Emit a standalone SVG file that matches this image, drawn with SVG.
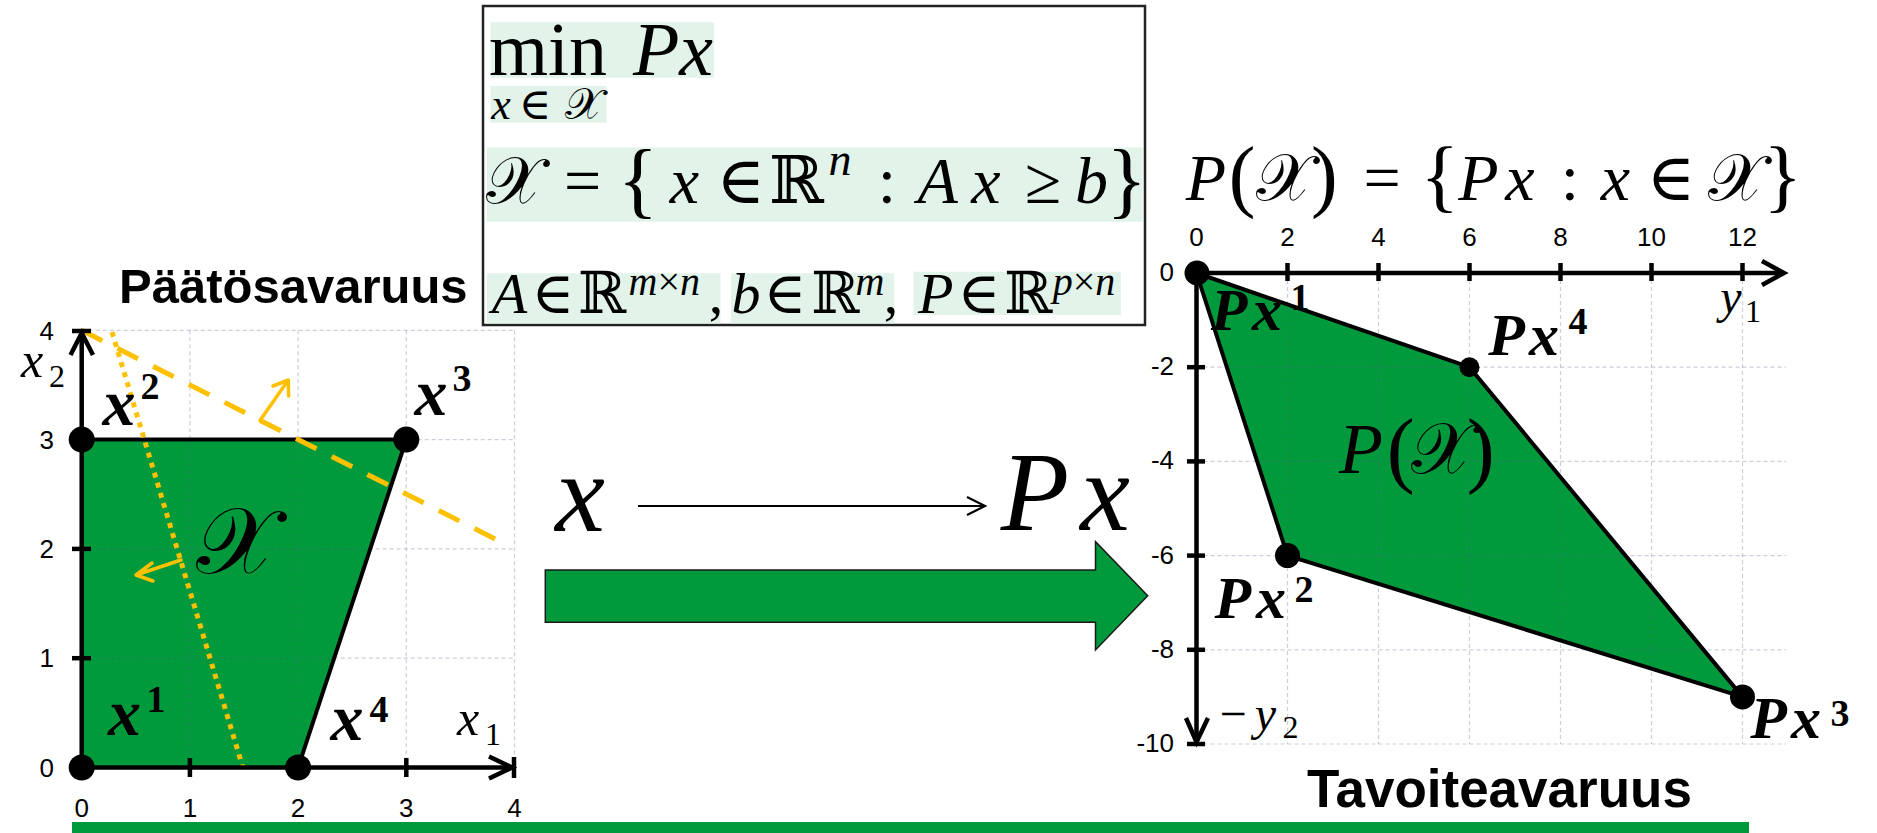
<svg xmlns="http://www.w3.org/2000/svg" width="1877" height="833" viewBox="0 0 1877 833">
<style>
.m{font-family:"Liberation Serif","DejaVu Serif",serif;font-style:italic;fill:#000;text-anchor:middle}
.r{font-style:normal}
.b{font-weight:bold}
.cal{font-family:"DejaVu Serif","DejaVu Sans",serif;font-style:normal}
.lbl{font-family:"Liberation Sans",Arial,sans-serif;fill:#000}
.tick{font-family:"Liberation Sans",Arial,sans-serif;font-size:26px;fill:#000}
.grid{stroke:#5a5f8c;stroke-opacity:.3;stroke-width:1.2;stroke-dasharray:4 3;fill:none}
.ax{stroke:#000;stroke-width:4.5;fill:none;stroke-linecap:butt}
.edge{stroke:#000;stroke-width:4;fill:none;stroke-linejoin:round}
.fill{fill:#009a3d}
.hl{fill:#e2f3ea}
.yl{stroke:#ffc000;fill:none}
</style>

<!-- Left plot: decision space -->
<g id="decision-space">
  <polygon class="fill" points="81.7,767.5 81.7,439.6 406.3,439.6 298.1,767.5"/>
  <g class="grid">
    <line x1="189.9" y1="330.3" x2="189.9" y2="767.5"/>
    <line x1="298.1" y1="330.3" x2="298.1" y2="767.5"/>
    <line x1="406.3" y1="330.3" x2="406.3" y2="767.5"/>
    <line x1="514.5" y1="330.3" x2="514.5" y2="767.5"/>
    <line x1="81.7" y1="658.2" x2="514.5" y2="658.2"/>
    <line x1="81.7" y1="548.9" x2="514.5" y2="548.9"/>
    <line x1="81.7" y1="439.6" x2="514.5" y2="439.6"/>
    <line x1="81.7" y1="330.3" x2="514.5" y2="330.3"/>
  </g>
  <polyline class="edge" points="81.7,439.6 406.3,439.6 298.1,767.5"/>
  <!-- constraint lines -->
  <line class="yl" x1="81.7" y1="330.3" x2="500.8" y2="541.8" stroke-width="5" stroke-dasharray="23 17"/>
  <line class="yl" x1="112" y1="332" x2="243" y2="768" stroke-width="5" stroke-dasharray="5 5.5"/>
  <path class="yl" d="M260,420.6 L288.3,380 M273,386 L288.3,380 L288.6,396" stroke-width="3.5" stroke-linecap="round" stroke-linejoin="round"/>
  <path class="yl" d="M181,560 L136,575 M152,563 L136,575 L153,581" stroke-width="3.5" stroke-linecap="round" stroke-linejoin="round"/>
  <!-- axes -->
  <line class="ax" x1="81.7" y1="767.5" x2="512" y2="767.5"/>
  <polyline class="ax" points="489,756.5 512,767.5 489,778.5"/>
  <line class="ax" x1="514" y1="757" x2="514" y2="778"/>
  <line class="ax" x1="81.7" y1="767.5" x2="81.7" y2="333"/>
  <polyline class="ax" points="70.5,355 81.7,333 93,355"/>
  <line class="ax" x1="72" y1="331" x2="91" y2="331"/>
  <line class="ax" x1="189.9" y1="758" x2="189.9" y2="777"/>
  <line class="ax" x1="406.3" y1="758" x2="406.3" y2="777"/>
  <line class="ax" x1="72" y1="658.2" x2="91" y2="658.2"/>
  <line class="ax" x1="72" y1="548.9" x2="91" y2="548.9"/>
  <!-- vertices -->
  <circle cx="81.7" cy="767.5" r="13"/>
  <circle cx="81.7" cy="439.6" r="13"/>
  <circle cx="406.3" cy="439.6" r="13"/>
  <circle cx="298.1" cy="767.5" r="13"/>
  <!-- tick labels -->
  <g class="tick" text-anchor="end">
    <text x="54" y="340">4</text>
    <text x="54" y="449">3</text>
    <text x="54" y="558">2</text>
    <text x="54" y="667">1</text>
    <text x="54" y="777">0</text>
  </g>
  <g class="tick" text-anchor="middle">
    <text x="81.7" y="817">0</text>
    <text x="189.9" y="817">1</text>
    <text x="298.1" y="817">2</text>
    <text x="406.3" y="817">3</text>
    <text x="514.5" y="817">4</text>
  </g>
  <!-- labels -->
  <text class="m b" font-size="66"><tspan x="119" y="425">x</tspan><tspan class="r" x="150" y="399" font-size="38">2</tspan></text>
  <text class="m b" font-size="66"><tspan x="431" y="415">x</tspan><tspan class="r" x="462" y="391" font-size="38">3</tspan></text>
  <text class="m b" font-size="66"><tspan x="124.5" y="735">x</tspan><tspan class="r" x="156" y="712" font-size="38">1</tspan></text>
  <text class="m b" font-size="66"><tspan x="347" y="740">x</tspan><tspan class="r" x="379" y="722" font-size="38">4</tspan></text>
  <text class="m" font-size="50"><tspan x="468" y="735">x</tspan><tspan class="r" x="493" y="745" font-size="32">1</tspan></text>
  <text class="m" font-size="50"><tspan x="32" y="377">x</tspan><tspan class="r" x="57" y="387" font-size="32">2</tspan></text>
  <text class="m cal" x="236" y="573" font-size="94">𝒳</text>
  <text class="lbl b" x="119" y="303" font-size="49">Päätösavaruus</text>
</g>

<!-- Formula box -->
<g id="formula-box">
  <rect x="483" y="6" width="662" height="319" fill="#fff" stroke="#222" stroke-width="2.5"/>
  <rect class="hl" x="490.5" y="22.3" width="223.5" height="55.4"/>
  <rect class="hl" x="490.5" y="86" width="116" height="36.7"/>
  <rect class="hl" x="487" y="147.5" width="655.5" height="74.2"/>
  <rect class="hl" x="487" y="273.3" width="233.5" height="50"/>
  <rect class="hl" x="731" y="273.3" width="163" height="50"/>
  <rect class="hl" x="913.5" y="271.7" width="207.5" height="43.3"/>
  <text class="m" font-size="76" y="75"><tspan class="r" x="548">min</tspan><tspan x="673" y="75">Px</tspan></text>
  <text class="m" font-size="44" y="119"><tspan x="501">x</tspan><tspan class="r" x="535" y="119">∈</tspan><tspan class="cal" x="584" y="119">𝒳</tspan></text>
  <text class="m" font-size="66" y="203"><tspan class="cal" x="514.5">𝒳</tspan><tspan class="r" x="582.5" y="203">=</tspan><tspan class="r" x="638" y="208" font-size="84">{</tspan><tspan x="684.5" y="203">x</tspan><tspan class="r" x="740.6" y="203">∈</tspan><tspan class="r" x="796.5" y="203">ℝ</tspan><tspan x="840" y="175" font-size="46">n</tspan><tspan class="r" x="886.8" y="203">:</tspan><tspan x="937.7" y="203">A</tspan><tspan x="986" y="203">x</tspan><tspan class="r" x="1042.8" y="203">≥</tspan><tspan x="1091.5" y="203">b</tspan><tspan class="r" x="1126.6" y="208" font-size="84">}</tspan></text>
  <text class="m" font-size="58" y="313.3"><tspan x="509.5">A</tspan><tspan class="r" x="553" y="313.3">∈</tspan><tspan class="r" x="601.8" y="313.3">ℝ</tspan><tspan x="664.3" y="295" font-size="40">m<tspan class="r">×</tspan>n</tspan><tspan class="r" x="716" y="313.3">,</tspan><tspan x="745.9" y="313.3">b</tspan><tspan class="r" x="785" y="313.3">∈</tspan><tspan class="r" x="835" y="313.3">ℝ</tspan><tspan x="870" y="295" font-size="40">m</tspan><tspan class="r" x="891" y="313.3">,</tspan><tspan x="935.8" y="313.3">P</tspan><tspan class="r" x="979" y="313.3">∈</tspan><tspan class="r" x="1028" y="313.3">ℝ</tspan><tspan x="1084" y="295" font-size="40">p<tspan class="r">×</tspan>n</tspan></text>
</g>

<!-- Mapping text -->
<g id="mapping">
  <text class="m" x="580" y="531" font-size="112">x</text>
  <text class="m" font-size="112" y="530"><tspan x="1035">P</tspan><tspan x="1105" y="530">x</tspan></text>
</g>

<!-- Connectors -->
<g id="connectors">
  <line x1="638" y1="506" x2="984" y2="506" stroke="#000" stroke-width="2.2"/>
  <polyline points="967,497 985,506 967,515" fill="none" stroke="#000" stroke-width="2.2"/>
  <polygon points="545.3,570 1095.5,570 1095.5,541.7 1147.7,595.7 1095.5,650 1095.5,622.3 545.3,622.3" fill="#009a3d" stroke="#1a1a1a" stroke-width="1.5"/>
</g>

<!-- Right plot: objective space -->
<g id="objective-space">
  <polygon class="fill" points="1196.5,273 1469.5,367.2 1742.5,696.9 1287.5,555.6"/>
  <g class="grid">
    <line x1="1287.5" y1="273" x2="1287.5" y2="744"/>
    <line x1="1378.5" y1="273" x2="1378.5" y2="744"/>
    <line x1="1469.5" y1="273" x2="1469.5" y2="744"/>
    <line x1="1560.5" y1="273" x2="1560.5" y2="744"/>
    <line x1="1651.5" y1="273" x2="1651.5" y2="744"/>
    <line x1="1742.5" y1="273" x2="1742.5" y2="744"/>
    <line x1="1196.5" y1="367.2" x2="1786" y2="367.2"/>
    <line x1="1196.5" y1="461.4" x2="1786" y2="461.4"/>
    <line x1="1196.5" y1="555.6" x2="1786" y2="555.6"/>
    <line x1="1196.5" y1="649.8" x2="1786" y2="649.8"/>
    <line x1="1196.5" y1="744" x2="1786" y2="744"/>
  </g>
  <polygon class="edge" points="1196.5,273 1469.5,367.2 1742.5,696.9 1287.5,555.6"/>
  <line class="ax" x1="1196.5" y1="273" x2="1783" y2="273" stroke-width="5"/>
  <polyline class="ax" points="1762,261 1784,273 1762,285" stroke-width="5"/>
  <line class="ax" x1="1196.5" y1="273" x2="1196.5" y2="742" stroke-width="5"/>
  <polyline class="ax" points="1186,718 1196.5,742 1208,718" stroke-width="5"/>
  <g class="ax">
    <line x1="1287.5" y1="263" x2="1287.5" y2="281"/>
    <line x1="1378.5" y1="263" x2="1378.5" y2="281"/>
    <line x1="1469.5" y1="263" x2="1469.5" y2="281"/>
    <line x1="1560.5" y1="263" x2="1560.5" y2="281"/>
    <line x1="1651.5" y1="263" x2="1651.5" y2="281"/>
    <line x1="1742.5" y1="263" x2="1742.5" y2="281"/>
    <line x1="1187" y1="367.2" x2="1205" y2="367.2"/>
    <line x1="1187" y1="461.4" x2="1205" y2="461.4"/>
    <line x1="1187" y1="555.6" x2="1205" y2="555.6"/>
    <line x1="1187" y1="649.8" x2="1205" y2="649.8"/>
    <line x1="1187" y1="744" x2="1205" y2="744"/>
  </g>
  <circle cx="1197" cy="273" r="12.5"/>
  <circle cx="1469.5" cy="367.2" r="10"/>
  <circle cx="1287.5" cy="555.6" r="12.5"/>
  <circle cx="1742.5" cy="696.9" r="12.5"/>
  <g class="tick" text-anchor="middle" font-size="27">
    <text x="1196.5" y="246">0</text>
    <text x="1287.5" y="246">2</text>
    <text x="1378.5" y="246">4</text>
    <text x="1469.5" y="246">6</text>
    <text x="1560.5" y="246">8</text>
    <text x="1651.5" y="246">10</text>
    <text x="1742.5" y="246">12</text>
  </g>
  <g class="tick" text-anchor="end" font-size="23">
    <text x="1174" y="281">0</text>
    <text x="1174" y="375.2">-2</text>
    <text x="1174" y="469.4">-4</text>
    <text x="1174" y="563.6">-6</text>
    <text x="1174" y="657.8">-8</text>
    <text x="1174" y="752">-10</text>
  </g>
  <text class="m" font-size="66" y="200"><tspan x="1205.8">P</tspan><tspan class="r" x="1242" y="202" font-size="80">(</tspan><tspan class="cal" x="1284.5" y="200">𝒳</tspan><tspan class="r" x="1324.4" y="202" font-size="80">)</tspan><tspan class="r" x="1382" y="200">=</tspan><tspan class="r" x="1439.6" y="202" font-size="80">{</tspan><tspan x="1478.3" y="200">P</tspan><tspan x="1520" y="200">x</tspan><tspan class="r" x="1569.9" y="200">:</tspan><tspan x="1615.5" y="200">x</tspan><tspan class="r" x="1671" y="200">∈</tspan><tspan class="cal" x="1736.5" y="200">𝒳</tspan><tspan class="r" x="1782.6" y="202" font-size="80">}</tspan></text>
  <text class="m" font-size="72" y="473"><tspan x="1361">P</tspan><tspan class="r" x="1400.8" y="477" font-size="84">(</tspan><tspan class="cal" x="1442" y="473">𝒳</tspan><tspan class="r" x="1480.7" y="477" font-size="84">)</tspan></text>
  <text class="m b" font-size="60"><tspan x="1229" y="330">P</tspan><tspan x="1267" y="330">x</tspan><tspan class="r" x="1300" y="310" font-size="38">1</tspan></text>
  <text class="m b" font-size="60"><tspan x="1506.7" y="355">P</tspan><tspan x="1544" y="355">x</tspan><tspan class="r" x="1578" y="334" font-size="38">4</tspan></text>
  <text class="m b" font-size="60"><tspan x="1232.8" y="618">P</tspan><tspan x="1271" y="618">x</tspan><tspan class="r" x="1304" y="602" font-size="38">2</tspan></text>
  <text class="m b" font-size="60"><tspan x="1768.5" y="738">P</tspan><tspan x="1806" y="738">x</tspan><tspan class="r" x="1840" y="726" font-size="38">3</tspan></text>
  <text class="m" font-size="48"><tspan x="1731" y="313">y</tspan><tspan class="r" x="1753" y="322" font-size="32">1</tspan></text>
  <text class="m" font-size="48"><tspan class="r" x="1233" y="730">−</tspan><tspan x="1265.5" y="730">y</tspan><tspan class="r" x="1290.5" y="738" font-size="32">2</tspan></text>
  <text class="lbl b" x="1307" y="807" font-size="53">Tavoiteavaruus</text>
</g>

<rect x="72" y="822" width="1677" height="11" fill="#009a3d"/>
</svg>
